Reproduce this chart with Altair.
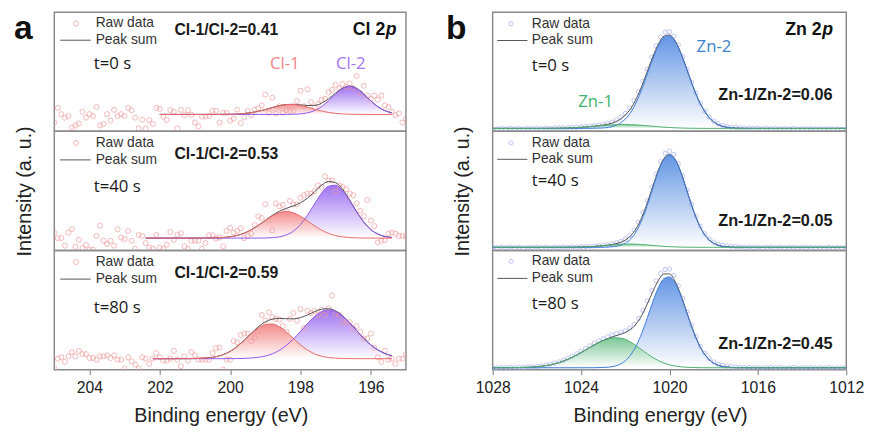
import altair as alt
import pandas as pd

# ---------------- data ----------------
CL_RAW_X = [round(205 - 0.1 * i, 1) for i in range(101)]   # energy grid of raw Cl points
ZN_RAW_X = [round(1028 - 0.2 * k, 1) for k in range(81)]   # energy grid of raw Zn points
CL_FIT_X = [round(202.4 - 0.2 * j, 1) for j in range(36)]  # energy grid of Cl fit curves
ZN_FIT_X = [1028, 1027, 1026.5, 1026, 1025.5, 1025, 1024.5, 1024, 1023.5, 1023,
            1022.5, 1022.25, 1022, 1021.75, 1021.5, 1021.25, 1021, 1020.75, 1020.5,
            1020.25, 1020, 1019.75, 1019.5, 1019.25, 1019, 1018.75, 1018.5, 1018.25,
            1018, 1017.5, 1017, 1016.5, 1016, 1015, 1014, 1012]

A1_RAW = [9, 24, 17.6, 14, 15.6, 4, 6, 8, 20, 14, 17.6, 15.6, 25, 6, 7.6, 17.6, 11, 22, 15.6, 17.6,
          15.6, 24, 21.6, 14, 3, 12, 3, 11.6, 7.6, 24, 23, 15, 11.6, 21.6, 20, 3, 22, 16.6, 21.6, 17,
          9, 5, 15, 15, 15.6, 21, 21, 9, 19, 19, 11,
          13, 22.3, 8.3, 14.3, 21, 16.6, 22.3, 23.3, 26.6, 37.6, 19, 34.3, 18.3, 25.6, 19, 21.6, 21, 21,
          31, 41.6, 25.6, 43, 30, 24.3, 28, 32.3, 33.3, 40, 42.3, 47.6, 44, 48.3, 45.6, 49, 44.3, 56.6,
          39, 46.6, 36.6, 33.3, 36.6, 32.3, 36.6, 26.6, 25, 20, 16.6, 18.3, 9, 13]
A2_RAW = [18.3, 12.7, 12.7, 5, 18.3, 21.7, 3.7, 11, 2.3, 5.7, 1, 1, 15, 25.7, 10, 6.7, 10, 5, 21.7,
          13.3, 11.7, 20, 10, 1.7, 16, 15, 7.7, 3, 1.7, 16, 3, 1.7, 6, 19, 11, 16.3, 17.7, 4.3, 1.7,
          10, 10, 10, 1.7, 7.7, 15.7, 15.7, 12.3, 13.3, 4.3, 20, 23.3,
          18.3, 20, 22.7, 12.7, 15, 17.3, 26, 35, 33.3, 47.3, 30.7, 20.7, 48.3, 45, 46.7, 40, 50.7,
          47.3, 47.3, 54, 56.7, 58.3, 58.3, 60.7, 66.7, 65, 76, 71.7, 71.7, 60.7, 66.7, 65, 62.7,
          58.3, 56.7, 48.3, 40.7, 35, 51.7, 30.7, 25, 8.3, 10, 10.7, 17.3, 18.3, 17.3, 15, 15, 14]
A3_RAW = [1.3, 11.3, 12.7, 8, 13.7, 18, 13.7, 19.3, 16, 16, 12, 12, 10.3, 13.7, 13.7, 14.7, 12, 14.7,
          10.3, 10.3, 1.3, 12.7, 8.7, 5.3, 1.3, 12.7, 11.3, 6, 11.3, 17, 12.7, 9.3, 9.3, 11.3, 19.3,
          10.3, 3.7, 13.7, 9.3, 18, 14.7, 10.3, 10.3, 10.3, 10.3, 17, 22, 22.7, 0.3, 10.3, 10.3, 29.3,
          28, 35.3, 37, 37, 29.3, 32.7, 39.3, 56, 50.3, 58.7, 53.7, 52, 51.3, 44.7, 38.7, 52, 58,
          50.3, 62, 42.7, 60.3, 58, 60.3, 56, 61.3, 56, 62.7, 76, 57, 56, 48.7, 48.7, 48.7, 42, 44.7,
          38.7, 32, 32, 37, 22.7, 12.7, 8, 19.3, 10.3, 11.3, 6, 11.3, 11.3, 16]

# Cl fit components (height above the fit baseline) on CL_FIT_X
A1_CL1 = [0, 0, 0, 0, 0, 0, 0, 0, 0, 0, 0, 0.06, 0.17, 0.42, 0.92, 1.79, 3.19, 5.01, 7.08, 8.94,
          10.1, 10.2, 9.24, 7.48, 5.43, 3.51, 2.04, 1.06, 0.49, 0.2, 0.08, 0.03, 0, 0, 0, 0]
A1_CL2 = [0, 0, 0, 0, 0, 0, 0, 0, 0, 0, 0, 0, 0, 0, 0, 0, 0, 0, 0, 0,
          0.04, 0.17, 0.57, 1.61, 3.88, 7.97, 13.97, 20.84, 26.49, 28.7, 26.49, 20.84, 13.97, 7.97,
          3.88, 1.61]
A2_CL1 = [0, 0, 0, 0, 0, 0, 0, 0, 0.03, 0.09, 0.25, 0.62, 1.36, 2.77, 5.12, 8.6, 13.05, 18.07,
          22.8, 26.15, 27.3, 25.9, 22.39, 17.58, 12.56, 8.16, 4.83, 2.59, 1.26, 0.57, 0.23, 0.08,
          0.03, 0, 0, 0]
A2_CL2 = [0, 0, 0, 0, 0, 0, 0, 0, 0, 0, 0, 0, 0, 0, 0, 0, 0.04, 0.14, 0.46, 1.32, 3.25, 7.1,
          13.76, 23.42, 34.89, 45.92, 53.13, 54.16, 48.6, 38.38, 26.7, 16.38, 8.79, 4.15, 1.74, 0.64]
A3_CL1 = [0, 0, 0, 0, 0, 0.01, 0.05, 0.14, 0.37, 0.93, 2.05, 4.11, 7.46, 12.46, 18.64, 25.3,
          31.24, 34.99, 35.49, 32.68, 27.27, 20.63, 14.17, 8.85, 5.03, 2.53, 1.19, 0.5, 0.19, 0.07,
          0.02, 0, 0, 0, 0, 0]
A3_CL2 = [0, 0, 0, 0, 0, 0, 0, 0, 0, 0, 0, 0, 0.04, 0.12, 0.29, 0.65, 1.38, 2.74, 4.96, 8.53,
          13.66, 20.1, 27.9, 35.9, 43.05, 48.1, 50, 48.4, 43.7, 36.7, 28.7, 20.9, 14.2, 9.0, 5.3, 2.9]

B1_RAW = [2.6, 2.2, 2.9, 2.4, 3.1, 2.5, 2.8, 2.3, 3.0, 2.7, 3.2, 2.6, 3.3, 3.0, 3.4,
          3.6, 3.5, 4.0, 4.2, 4.3, 4.6, 5.0, 5.3, 5.9, 6.4, 7.0, 8.1, 9.4, 11.5, 14.5,
          18.5, 24, 31.5, 40.5, 51.5, 63.5, 76, 87.5, 96.5, 101.5, 102, 97.5, 88.5, 76.5, 63.5,
          50.5, 39, 28.8, 20.5, 14.6, 10.5, 7.8, 6.1, 5.0, 4.3, 4.0, 3.6, 3.3, 3.4, 2.9,
          3.2, 2.7, 3.0, 2.6, 2.9, 2.4, 2.8, 2.5, 2.9, 2.3, 2.7, 2.4, 2.8, 2.2, 2.6, 2.3, 2.7, 2.2,
          2.5, 2.1, 2.4]
B2_RAW = [3.2, 2.8, 3.5, 3.0, 3.6, 2.9, 3.3, 2.7, 3.4, 3.1, 3.6, 3.0, 3.4, 2.8, 3.5,
          3.2, 3.6, 3.4, 3.8, 3.5, 3.9, 4.0, 4.3, 4.6, 5.0, 5.4, 6.0, 6.8, 7.9, 9.3,
          11.8, 15.5, 21, 29, 39, 51, 65, 78.5, 91, 99.5, 101.7, 98.5, 89, 76.5, 62,
          47.5, 35, 24.8, 17.2, 12, 8.6, 6.8, 5.6, 4.9, 4.4, 4.0,
          3.7, 3.2, 3.6, 3.0, 3.4, 2.9, 3.3, 3.6, 3.0, 3.4, 2.8, 3.2, 3.5, 2.9, 3.3, 3.0, 3.4, 2.8,
          3.2, 2.9, 3.3, 2.7, 3.1, 2.8, 3.2]
B3_RAW = [2.2, 1.8, 2.4, 2.0, 2.5, 2.1, 2.6, 2.4, 3.0, 2.9, 3.4, 3.9, 4.5, 5.6, 6.8,
          8.0, 9.7, 11.8, 13.9, 16.3, 19, 21.8, 24.5, 27.2, 29.6, 31.8, 33.8, 35.5, 37, 38.5,
          40, 42.5, 46.5, 52.5, 60.5, 70.5, 81, 91, 98.5, 102.5, 103, 96.5, 86, 73, 59,
          45.5, 34, 24, 16.8, 11.5, 8.0, 5.8, 4.6, 3.8, 3.2, 2.8,
          2.5, 2.1, 2.4, 1.9, 2.3, 1.8, 2.2, 2.5, 1.9, 2.2, 1.7, 2.1, 2.4, 1.8, 2.2, 1.9, 2.3, 1.7,
          2.1, 1.8, 2.2, 1.6, 2.0, 1.8, 2.1]

# Zn fit components (height above the fit baseline) on ZN_FIT_X
B1_ZN1 = [0, 0, 0, 0.02, 0.07, 0.2, 0.51, 1.1, 1.97, 2.96, 3.75, 3.96, 3.99, 3.86, 3.58, 3.17,
          2.69, 2.18, 1.7, 1.26, 0.9, 0.62, 0.4, 0.25, 0.15, 0.08, 0.05, 0.02, 0.01, 0, 0, 0, 0, 0, 0, 0]
B1_ZN2 = [0, 0, 0, 0, 0, 0, 0, 0.01, 0.1, 0.47, 2.48, 5.07, 9.6, 16.5, 26.9, 40.2, 55.8, 71.3,
          84.7, 93.1, 94.7, 89.2, 77.7, 62.7, 46.8, 32.3, 20.9, 12.4, 6.74, 1.6, 0.28, 0.03, 0, 0, 0, 0]
B2_ZN1 = [0, 0, 0, 0, 0.01, 0.02, 0.09, 0.29, 0.78, 1.61, 2.58, 2.98, 3.23, 3.3, 3.15, 2.84, 2.4,
          1.9, 1.42, 0.99, 0.65, 0.4, 0.23, 0.13, 0.06, 0.03, 0.01, 0, 0, 0, 0, 0, 0, 0, 0, 0]
B2_ZN2 = [0, 0, 0, 0, 0, 0, 0, 0, 0, 0.08, 0.72, 1.82, 4.14, 8.58, 16.3, 27.9, 43.2, 60.8, 77.7,
          89.9, 94.4, 89.9, 77.7, 60.8, 43.2, 27.9, 16.3, 8.58, 4.14, 0.72, 0.08, 0, 0, 0, 0, 0]
B3_ZN1 = [0.01, 0.13, 0.4, 1.07, 2.52, 5.25, 9.67, 15.6, 22.2, 27.8, 30.6, 30.5, 29, 26.2, 22.4,
          18.3, 14.2, 10.4, 7.3, 4.8, 3.0, 1.8, 1.02, 0.54, 0.28, 0.14, 0.06, 0.03, 0.01, 0, 0, 0, 0, 0, 0, 0]
B3_ZN2 = [0, 0, 0, 0, 0, 0, 0, 0, 0.03, 0.24, 1.56, 3.48, 7.1, 13.3, 22.7, 35.5, 51.3, 67.8, 82.1,
          91.2, 93, 86.9, 74.5, 58.6, 42.2, 28, 16.9, 9.4, 4.8, 0.97, 0.14, 0.01, 0, 0, 0, 0]

CL_BASE = [17.3, 12.7, 11.3]
CL_FIT_START = [202.0, 202.4, 202.2]
ZN_BASE = [3.0, 3.3, 2.0]
TIMES = ["t=0 s", "t=40 s", "t=80 s"]
CL_RATIOS = ["Cl-1/Cl-2=0.41", "Cl-1/Cl-2=0.53", "Cl-1/Cl-2=0.59"]
ZN_RATIOS = ["Zn-1/Zn-2=0.06", "Zn-1/Zn-2=0.05", "Zn-1/Zn-2=0.45"]
CL_TICKS = [204, 202, 200, 198, 196]
ZN_TICKS = [1028, 1024, 1020, 1016, 1012]

# ---------------- styling ----------------
FONT = "Liberation Sans"
SANS2 = "Open Sans"
SUB_H = 121
INK = "#222222"

CL_COLS = {"raw": "#f09a9a", "size": 26, "l1": "#e86a6a", "l2": "#8f55ea",
           "f1": "#f28a8a", "f2": "#9f72f2"}
ZN_COLS = {"raw": "#a3acf2", "size": 18, "l1": "#4caf6e", "l2": "#3d7bd8",
           "f1": "#7cc896", "f2": "#6496e4"}


def grad(c):
    return alt.LinearGradient(
        gradient="linear",
        stops=[alt.GradientStop(color=c, offset=0), alt.GradientStop(color="#ffffff", offset=1)],
        x1=0, x2=0, y1=0, y2=1)


def txt(t, x, y, size, color=INK, weight="normal", align="left", font=FONT,
        style="normal", baseline="middle"):
    return alt.Chart(pd.DataFrame({"t": [t]})).mark_text(
        align=align, baseline=baseline, fontSize=size, font=font, fontWeight=weight,
        fontStyle=style, color=color).encode(text="t:N", x=alt.value(x), y=alt.value(y))


def legend(cx, cy, lx1, lx2, ly, tx, raw_color, size):
    one = pd.DataFrame({"t": [0]})
    return [
        alt.Chart(one).mark_point(shape="circle", filled=False, size=size, color=raw_color,
                                  strokeWidth=1).encode(x=alt.value(cx), y=alt.value(cy)),
        alt.Chart(one).mark_rule(color="#555555", strokeWidth=1).encode(
            x=alt.value(lx1), x2=alt.value(lx2), y=alt.value(ly)),
        txt("Raw data", tx, cy, 14, "#333333"),
        txt("Peak sum", tx, ly, 14, "#333333"),
    ]


def sub_chart(raw_x, raw_y, fit_x, comp1, comp2, base, start, domain, width, cols,
              show_x, show_y, ticks, title_x, ann):
    keep = [k for k, x in enumerate(fit_x) if x <= start]
    fit = pd.DataFrame({
        "e": [fit_x[k] for k in keep],
        "c1": [base + comp1[k] for k in keep],
        "c2": [base + comp2[k] for k in keep],
        "s": [base + comp1[k] + comp2[k] for k in keep],
        "b": [base] * len(keep),
    })
    raw = pd.DataFrame({"e": raw_x, "i": raw_y})
    xs = alt.Scale(domain=domain, nice=False, zero=False)
    ys = alt.Scale(domain=[0, 122], nice=False, zero=False)
    if show_x:
        xaxis = alt.Axis(values=ticks, format="d", title="Binding energy (eV)",
                         labelFont=FONT, labelFontSize=16, labelColor=INK, labelPadding=5,
                         labelFlush=False, labelOverlap=False,
                         tickSize=5, tickColor="#777777", tickWidth=1, domain=False, grid=False,
                         titleFont=FONT, titleFontSize=20, titleFontWeight="normal",
                         titleColor=INK, titlePadding=11, titleX=title_x)
    else:
        xaxis = None
    if show_y:
        yaxis = alt.Axis(title="Intensity (a. u.)", labels=False, ticks=False, domain=False,
                         grid=False, titleFont=FONT, titleFontSize=20, titleFontWeight="normal",
                         titleColor=INK, titlePadding=20)
    else:
        yaxis = None
    X = alt.X("e:Q", scale=xs, axis=xaxis)

    def Y(f):
        return alt.Y(f + ":Q", scale=ys, axis=yaxis)

    bf = alt.Chart(fit)
    layers = [
        bf.mark_area(color=grad(cols["f2"]), interpolate="monotone", clip=True).encode(
            x=X, y=Y("c2"), y2="b:Q"),
        bf.mark_area(color=grad(cols["f1"]), interpolate="monotone", clip=True).encode(
            x=X, y=Y("c1"), y2="b:Q"),
        alt.Chart(raw).mark_point(shape="circle", filled=False, size=cols["size"],
                                  color=cols["raw"], strokeWidth=1, clip=True).encode(
            x=X, y=Y("i")),
        bf.mark_line(color="#505050", strokeWidth=1, interpolate="monotone", clip=True).encode(
            x=X, y=Y("s")),
        bf.mark_line(color=cols["l2"], strokeWidth=1, interpolate="monotone", clip=True).encode(
            x=X, y=Y("c2")),
        bf.mark_line(color=cols["l1"], strokeWidth=1, interpolate="monotone", clip=True).encode(
            x=X, y=Y("c1")),
    ]
    return alt.layer(*(layers + ann)).properties(width=width, height=SUB_H)


# ---------------- panel a (Cl 2p) ----------------
A_RAWS = [A1_RAW, A2_RAW, A3_RAW]
A_C1 = [A1_CL1, A2_CL1, A3_CL1]
A_C2 = [A1_CL2, A2_CL2, A3_CL2]
a_raw_y = [11.5, 11.7, 11.7]
a_sum_y = [28.5, 29, 29]
a_t_y = [52.5, 56.7, 58]
a_r_y = [18.5, 22.7, 23.3]
a_charts = []
for i in range(3):
    ann = legend(22, a_raw_y[i], 6, 37, a_sum_y[i], 42, CL_COLS["raw"], CL_COLS["size"])
    ann += [txt(TIMES[i], 40, a_t_y[i], 17, "#1a1a1a", font=SANS2),
            txt(CL_RATIOS[i], 122, a_r_y[i], 16, "#1a1a1a", weight="bold")]
    if i == 0:
        ann += [txt("Cl 2", 336, 18.5, 18, "#111111", weight="bold", align="right"),
                txt("p", 336.5, 18.5, 18, "#111111", weight="bold", style="italic"),
                txt("Cl-1", 234, 53, 17, "#f08585", font=SANS2, align="center"),
                txt("Cl-2", 301, 53, 17, "#a474f2", font=SANS2, align="center"),
                txt("a", -31.5, 27.5, 34, "#111111", weight="bold", align="center",
                    baseline="alphabetic")]
    a_charts.append(sub_chart(CL_RAW_X, A_RAWS[i], CL_FIT_X, A_C1[i], A_C2[i], CL_BASE[i],
                              CL_FIT_START[i], [205, 195], 357, CL_COLS,
                              i == 2, i == 1, CL_TICKS, 169, ann))

# ---------------- panel b (Zn 2p) ----------------
B_RAWS = [B1_RAW, B2_RAW, B3_RAW]
B_C1 = [B1_ZN1, B2_ZN1, B3_ZN1]
B_C2 = [B1_ZN2, B2_ZN2, B3_ZN2]
b_raw_y = [11.8, 11.7, 11]
b_sum_y = [28.8, 28.4, 28.3]
b_t_y = [54.5, 50, 54.3]
b_r_y = [84, 90.7, 95]
b_charts = []
for i in range(3):
    ann = legend(18.7, b_raw_y[i], 4.7, 35.3, b_sum_y[i], 39.7, ZN_COLS["raw"], ZN_COLS["size"])
    ann += [txt(TIMES[i], 39.7, b_t_y[i], 17, "#1a1a1a", font=SANS2),
            txt(ZN_RATIOS[i], 345, b_r_y[i], 16.5, "#1a1a1a", weight="bold", align="right")]
    if i == 0:
        ann += [txt("Zn 2", 334, 18.5, 18, "#111111", weight="bold", align="right"),
                txt("p", 334.5, 18.5, 18, "#111111", weight="bold", style="italic"),
                txt("Zn-2", 224.7, 35, 17, "#3a80cc", font=SANS2, align="center"),
                txt("Zn-1", 104.5, 91, 17, "#3cb46a", font=SANS2, align="center"),
                txt("b", -37, 27.5, 34, "#111111", weight="bold", align="center",
                    baseline="alphabetic")]
    b_charts.append(sub_chart(ZN_RAW_X, B_RAWS[i], ZN_FIT_X, B_C1[i], B_C2[i], ZN_BASE[i],
                              2000, [1028, 1012], 359, ZN_COLS,
                              i == 2, i == 1, ZN_TICKS, 170, ann))

chart = alt.hconcat(
    alt.vconcat(*a_charts, spacing=0, bounds="flush"),
    alt.vconcat(*b_charts, spacing=0, bounds="flush"),
    spacing=38,
).properties(
    padding={"left": 5, "top": 0, "right": 0, "bottom": 0}
).configure_view(stroke="#8a8a8a", strokeWidth=1.5)

chart.save("out.html", embed_options={"renderer": "svg", "actions": False})
